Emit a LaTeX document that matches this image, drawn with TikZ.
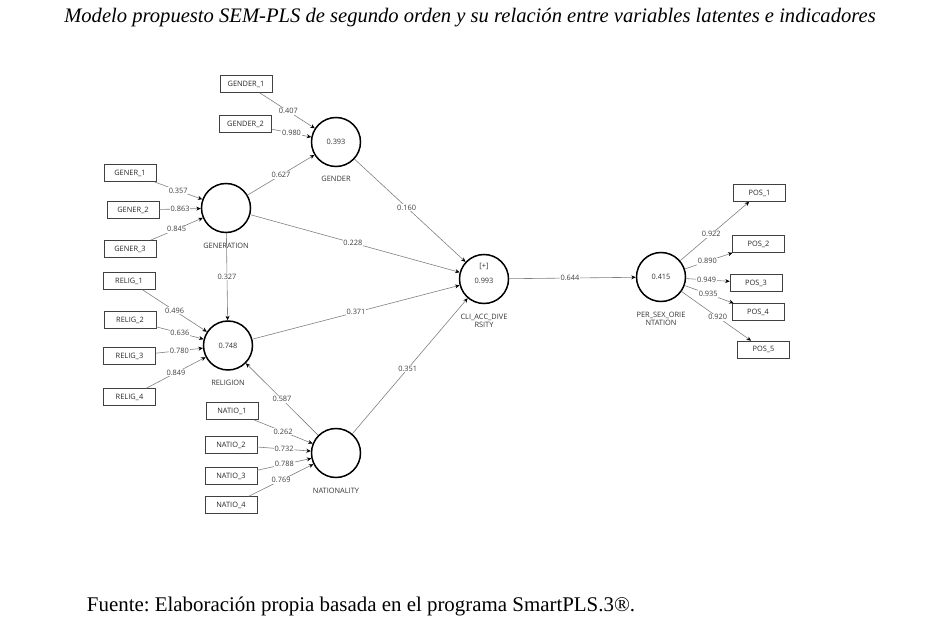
\documentclass[tikz,border=0pt]{standalone}
\usepackage{fontspec}
\setmainfont{Liberation Serif}
\newfontfamily\plsfont{Open Sans}
\usetikzlibrary{arrows.meta}
\frenchspacing
\tikzset{
  ind/.style={draw=black!75, line width=0.6pt, minimum width=52pt, minimum height=17pt, inner sep=0pt, font=\plsfont\fontsize{7.4}{8.5}\selectfont, text=black!85},
  lat/.style={circle, draw=black, line width=1.5pt, minimum size=49pt, inner sep=0pt, font=\plsfont\fontsize{7.4}{8.5}\selectfont, text=black!80},
  latname/.style={font=\plsfont\fontsize{7.4}{8.5}\selectfont, text=black!80, align=center, inner sep=0pt},
  lnk/.style={draw=black!50, line width=0.6pt, -{Stealth[length=4.5pt,width=4pt,black]}},
  lbl/.style={fill=white, inner sep=0.8pt, font=\plsfont\fontsize{7.4}{8.5}\selectfont, text=black!75},
}
\begin{document}
\begin{tikzpicture}[x=1pt,y=-1pt]
\useasboundingbox (0,0) rectangle (931,628);
% title and source
\node (title) at (470,18) {\fontsize{20.6}{23}\selectfont\itshape Modelo propuesto SEM-PLS de segundo orden y su relación entre variables latentes e indicadores};
\node (src) at (361,606) {\fontsize{20.9}{23}\selectfont Fuente: Elaboración propia basada en el programa SmartPLS.3®.};
% latent variables
\node[lat] (gender) at (336,142) {0.393};
\node[lat] (gener) at (226,208) {};
\node[lat] (relig) at (228,345.5) {0.748};
\node[lat] (natio) at (336,453) {};
\node[lat] (cli) at (484,279) {};
\node[lat] (per) at (661,277) {0.415};
\node[latname] (cliplus) at (484,266) {[+]};
\node[latname] (clival) at (484,281) {0.993};
% latent names
\node[latname] (ngender) at (336,179) {GENDER};
\node[latname] (ngener) at (226,246) {GENERATION};
\node[latname] (nrelig) at (228,383) {RELIGION};
\node[latname] (nnatio) at (336,491) {NATIONALITY};
\node[latname] (ncli) at (484,321) {CLI\_ACC\_DIVE\\RSITY};
\node[latname] (nper) at (661,319) {PER\_SEX\_ORIE\\NTATION};
% indicators
\node[ind] (gd1) at (246,84) {GENDER\_1};
\node[ind] (gd2) at (245.5,124) {GENDER\_2};
\node[ind] (gn1) at (130,173) {GENER\_1};
\node[ind] (gn2) at (133,210) {GENER\_2};
\node[ind] (gn3) at (130,249) {GENER\_3};
\node[ind] (r1) at (129,281) {RELIG\_1};
\node[ind] (r2) at (130,320) {RELIG\_2};
\node[ind] (r3) at (129.5,356) {RELIG\_3};
\node[ind] (r4) at (129.5,397) {RELIG\_4};
\node[ind] (n1) at (232,411) {NATIO\_1};
\node[ind] (n2) at (231,445) {NATIO\_2};
\node[ind] (n3) at (231,476) {NATIO\_3};
\node[ind] (n4) at (231,505) {NATIO\_4};
\node[ind] (p1) at (759.5,193) {POS\_1};
\node[ind] (p2) at (758.5,244) {POS\_2};
\node[ind] (p3) at (756,283) {POS\_3};
\node[ind] (p4) at (758,312) {POS\_4};
\node[ind] (p5) at (763.5,349.5) {POS\_5};
% indicator links
\draw[lnk] (gd1) -- node[lbl,pos=0.52]{0.407} (gender);
\draw[lnk] (gd2) -- node[lbl]{0.980} (gender);
\draw[lnk] (gn1) -- node[lbl]{0.357} (gener);
\draw[lnk] (gn2) -- node[lbl]{0.863} (gener);
\draw[lnk] (gn3) -- node[lbl]{0.845} (gener);
\draw[lnk] (r1) -- node[lbl]{0.496} (relig);
\draw[lnk] (r2) -- node[lbl]{0.636} (relig);
\draw[lnk] (r3) -- node[lbl]{0.780} (relig);
\draw[lnk] (r4) -- node[lbl]{0.849} (relig);
\draw[lnk] (n1) -- node[lbl]{0.262} (natio);
\draw[lnk] (n2) -- node[lbl]{0.732} (natio);
\draw[lnk] (n3) -- node[lbl]{0.788} (natio);
\draw[lnk] (n4) -- node[lbl]{0.769} (natio);
\draw[lnk] (per) -- node[lbl,pos=0.45]{0.922} (p1);
\draw[lnk] (per) -- node[lbl,pos=0.47]{0.890} (p2);
\draw[lnk] (per) -- node[lbl,pos=0.47]{0.949} (p3);
\draw[lnk] (per) -- node[lbl,pos=0.48]{0.935} (p4);
\draw[lnk] (per) -- node[lbl,pos=0.52]{0.920} (p5);
% structural links
\draw[lnk] (gener) -- node[lbl]{0.627} (gender);
\draw[lnk] (gender) -- node[lbl,pos=0.47]{0.160} (cli);
\draw[lnk] (gener) -- node[lbl,pos=0.49]{0.228} (cli);
\draw[lnk] (gener) -- node[lbl]{0.327} (relig);
\draw[lnk] (relig) -- node[lbl]{0.371} (cli);
\draw[lnk] (natio) -- node[lbl]{0.587} (relig);
\draw[lnk] (natio) -- node[lbl,pos=0.48]{0.351} (cli);
\draw[lnk] (cli) -- node[lbl,pos=0.48]{0.644} (per);
\end{tikzpicture}
\end{document}
